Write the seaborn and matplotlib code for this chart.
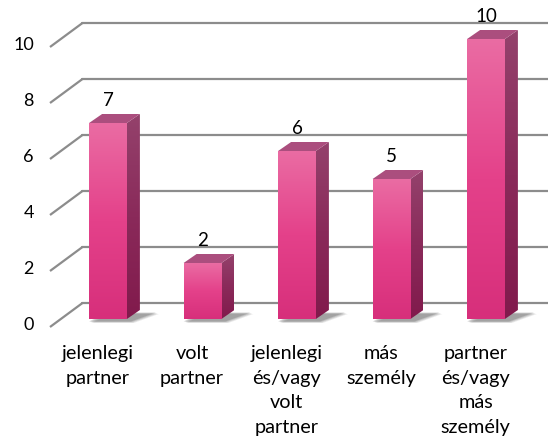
import numpy as np
import pandas as pd
import matplotlib.pyplot as plt
import seaborn as sns
from matplotlib.patches import Polygon
from matplotlib.colors import LinearSegmentedColormap

# Chart data
categories = ["jelenlegi\npartner", "volt\npartner", "jelenlegi\nés/vagy\nvolt\npartner",
              "más\nszemély", "partner\nés/vagy\nmás\nszemély"]
values = [7, 2, 6, 5, 10]
y_ticks = [0, 2, 4, 6, 8, 10]

# Layout (pixels of the 548x445 canvas)
W, H = 548, 445
x0_px, step_px = 108, 94.5      # first bar centre, distance between bars
base_px, unit_px = 319, 28      # bar baseline (from top), pixels per unit
bar_depth = (13, 9)             # side face offset of a bar (right, up)
front_off = (-10.5, -8)         # floor front edge relative to the bar plane
back_off = (22, 16)             # back wall relative to the bar plane

sns.set_style("white")
plt.rcParams["font.family"] = ["Lato", "DejaVu Sans"]

fig = plt.figure(figsize=(W / 100, H / 100), dpi=100)
ax = fig.add_axes([0, 0, 1, 1])
xlim = (-x0_px / step_px, (W - x0_px) / step_px)
ylim = ((base_px - H) / unit_px, base_px / unit_px)


def px(dx, dy):
    # pixel offset -> data offset
    return dx / step_px, dy / unit_px


df = pd.DataFrame({"category": categories, "value": values})
sns.barplot(data=df, x="category", y="value", width=0.40, color="#E4418A",
            ax=ax, zorder=4, linewidth=0, errorbar=None)

# back wall gridlines + diagonal floor/wall lines
fx, fy = px(*front_off)
bx, by = px(*back_off)
for v in y_ticks:
    ax.plot([xlim[0] + (50 / step_px), xlim[0] + (50 / step_px) + (bx - fx)],
            [v + fy, v + by], color="#8C8C8C", lw=1.6, zorder=1,
            solid_capstyle="butt")
    ax.plot([xlim[0] + (50 / step_px) + (bx - fx), xlim[1]], [v + by, v + by],
            color="#8C8C8C", lw=1.6, zorder=1)
    ax.text(xlim[0] + 34 / step_px, v + fy + px(0, 1.5)[1], str(v), ha="right",
            va="center", fontsize=13, color="#000000")

front_cmap = LinearSegmentedColormap.from_list("front", ["#EA6CA3", "#E4418A", "#D72F7B"])
side_cmap = LinearSegmentedColormap.from_list("side", ["#94426C", "#8A2A5A", "#811A4C"])
grad = np.linspace(0, 1, 256).reshape(-1, 1)

ddx, ddy = px(*bar_depth)
for i, patch in enumerate(ax.patches):
    x0 = patch.get_x()
    x1 = x0 + patch.get_width()
    top = patch.get_height()
    # front face gradient
    im = ax.imshow(grad, cmap=front_cmap, aspect="auto", extent=(x0, x1, 0, top),
                   origin="upper", zorder=4.5)
    im.set_clip_path(patch)
    # side face
    side = Polygon([(x1, 0), (x1, top), (x1 + ddx, top + ddy), (x1 + ddx, ddy)],
                   closed=True, facecolor="none", edgecolor="none", zorder=4)
    ax.add_patch(side)
    im2 = ax.imshow(grad, cmap=side_cmap, aspect="auto",
                    extent=(x1, x1 + ddx, 0, top + ddy), origin="upper", zorder=4)
    im2.set_clip_path(side)
    # top face
    ax.add_patch(Polygon([(x0, top), (x1, top), (x1 + ddx, top + ddy), (x0 + ddx, top + ddy)],
                         closed=True, facecolor="#AB4E7E", edgecolor="none", zorder=4.6))
    # soft shadow on the floor
    for k, a in enumerate([0.10, 0.12, 0.15, 0.2]):
        s = 4 - k
        sx, sy = px(s + 3, -2 - s * 0.5)
        ax.add_patch(Polygon([(x0 + sx - px(4, 0)[0], sy), (x1 + sx, sy),
                              (x1 + ddx + sx + px(12, 0)[0], ddy + sy),
                              (x0 + ddx + sx, ddy + sy)],
                             closed=True, facecolor="#3A3A3A", alpha=a,
                             edgecolor="none", zorder=3))
    # value label
    ax.text(x0 + patch.get_width() / 2, top + px(0, 23)[1], str(values[i]),
            ha="center", va="center", fontsize=13.5, color="#000000", zorder=6)

# category labels along the floor front edge
for i, lab in enumerate(categories):
    ax.text(i + fx, px(0, -26)[1], lab, ha="center", va="top", fontsize=14.3,
            linespacing=1.55, color="#000000")

ax.set_xlim(*xlim)
ax.set_ylim(*ylim)
ax.axis("off")

fig.savefig("out.png", dpi=100)
